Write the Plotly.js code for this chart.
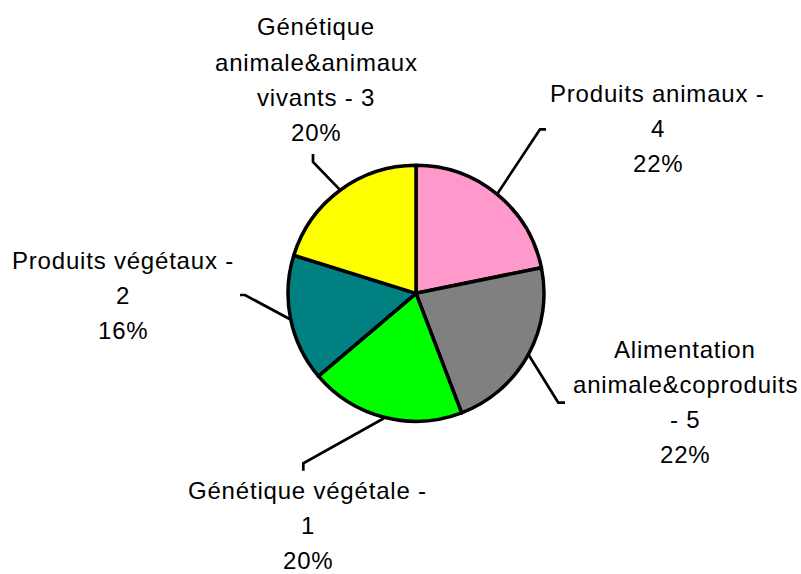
<!DOCTYPE html>
<html>
<head>
<meta charset="utf-8">
<script src="https://cdn.plot.ly/plotly-3.0.1.min.js"></script>
<style>
html,body{margin:0;padding:0;background:#fff;}
.annotation-text{letter-spacing:0.8px;}
</style>
</head>
<body>
<div id="chart" style="width:801px;height:574px;"></div>
<script>
// ---- data (in drawing order, clockwise from 12 o'clock) ----
const categories = [
  "Produits animaux - 4",
  "Alimentation animale&coproduits - 5",
  "Génétique végétale - 1",
  "Produits végétaux - 2",
  "Génétique animale&animaux vivants - 3"
];
const values = [21.8, 22.4, 19.6, 16.0, 20.2];
const colors = ["#FF99CC", "#808080", "#00FF00", "#008080", "#FFFF00"];
// wrapped label lines (as in the reference)
const labelLines = [
  ["Produits animaux -", "4"],
  ["Alimentation", "animale&coproduits", "- 5"],
  ["Génétique végétale -", "1"],
  ["Produits végétaux -", "2"],
  ["Génétique", "animale&animaux", "vivants - 3"]
];

// ---- layout geometry (pixels) ----
const W = 801, H = 574;
const CX = 416, CY = 293.3, R = 128;
const LINE_GAP = 35.2;
// label anchor: centre x, cap-centre y of first line
const labelPos = [
  [657.5, 93], [685, 349], [307.5, 490.5], [123.3, 260], [316, 27]
];
// leader elbow and tail
const leaderPts = [
  [[540, 129.3], [546, 129.3]],
  [[558.3, 402.7], [565, 402.7]],
  [[303.3, 463.3], [303.3, 470.7]],
  [[245, 295], [240, 295]],
  [[313, 162], [313, 154]]
];

const px = x => x / W;
const py = y => 1 - y / H;

const total = values.reduce((a, b) => a + b, 0);
const annotations = [];
const shapes = [];
let cum = 0;
values.forEach((v, i) => {
  const pct = Math.round(v / total * 100) + "%";
  const lines = labelLines[i].concat([pct]);
  lines.forEach((t, k) => {
    annotations.push({
      xref: "paper", yref: "paper",
      x: px(labelPos[i][0]), y: py(labelPos[i][1] + k * LINE_GAP),
      xanchor: "center", yanchor: "middle",
      text: t, showarrow: false,
      font: {family: "Liberation Sans, Arial, sans-serif", size: 24, color: "#000"}
    });
  });
  const mid = (cum + v / 2) / total * 2 * Math.PI;
  cum += v;
  const sx = CX + (R + 1) * Math.sin(mid);
  const sy = CY - (R + 1) * Math.cos(mid);
  const e = leaderPts[i][0], t = leaderPts[i][1];
  shapes.push({
    type: "path", xref: "paper", yref: "paper",
    path: `M ${px(sx)} ${py(sy)} L ${px(e[0])} ${py(e[1])} L ${px(t[0])} ${py(t[1])}`,
    line: {color: "#000", width: 2.7}
  });
});

const trace = {
  type: "pie",
  labels: categories,
  values: values,
  sort: false,
  direction: "clockwise",
  rotation: 0,
  textinfo: "none",
  hoverinfo: "label+percent",
  marker: {colors: colors, line: {color: "#000", width: 3.5}},
  domain: {x: [px(CX - R), px(CX + R)], y: [py(CY + R), py(CY - R)]}
};

const layout = {
  width: W, height: H,
  margin: {l: 0, r: 0, t: 0, b: 0, pad: 0},
  showlegend: false,
  paper_bgcolor: "#fff",
  annotations: annotations,
  shapes: shapes
};

Plotly.newPlot("chart", [trace], layout, {displayModeBar: false, staticPlot: true});
</script>
</body>
</html>
